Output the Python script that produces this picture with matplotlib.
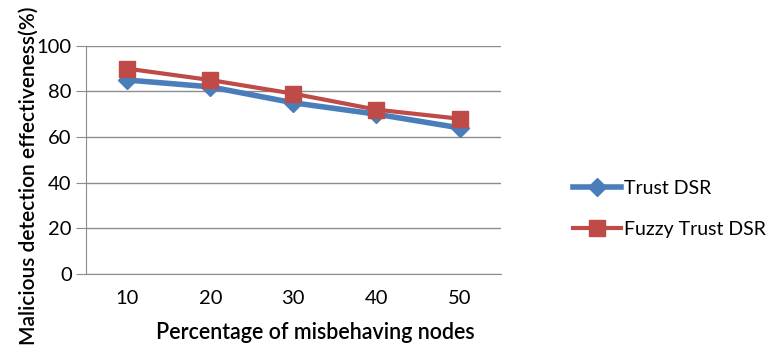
import matplotlib
matplotlib.use('Agg')
import matplotlib.pyplot as plt
import numpy as np

# Chart data
nodes = ['10', '20', '30', '40', '50']
trust_dsr = [85, 82, 75, 70, 64]
fuzzy_trust_dsr = [90, 85, 79, 72, 68]

plt.rcParams['font.family'] = ['Lato', 'DejaVu Sans']

fig = plt.figure(figsize=(7.71, 3.61), dpi=100)
ax = fig.add_axes([0.111, 0.242, 0.539, 0.631])

x = np.arange(len(nodes))
ax.plot(x, trust_dsr, color='#4A7EBB', linewidth=4.0, marker='D',
        markersize=9, label='Trust DSR', zorder=3)
ax.plot(x, fuzzy_trust_dsr, color='#BE4B48', linewidth=3.0, marker='s',
        markersize=12, label='Fuzzy Trust DSR', zorder=4)

ax.set_xlim(-0.5, len(nodes) - 0.5)
ax.set_ylim(0, 100)
ax.set_yticks(range(0, 101, 20))
ax.set_xticks(x)
ax.set_xticklabels(nodes)

# Excel-like gray grid and axes
ax.grid(axis='y', color='#8c8c8c', linewidth=1.0)
ax.set_axisbelow(True)
for side in ['top', 'right']:
    ax.spines[side].set_visible(False)
ax.spines['left'].set_color('#8c8c8c')
ax.spines['bottom'].set_color('#8c8c8c')
ax.tick_params(axis='y', length=7, color='#8c8c8c', labelsize=14.5, pad=3)
ax.tick_params(axis='x', length=0, labelsize=14.5, pad=12)

ax.set_xlabel('Percentage of misbehaving nodes', fontsize=15.5,
              fontweight='semibold')
ax.xaxis.set_label_coords(0.552, -0.212)
ax.set_ylabel('Malicious detection effectiveness(%)', fontsize=15,
              fontweight='semibold')
ax.yaxis.set_label_coords(-0.113, 0.43)

ax.legend(loc='center left', bbox_to_anchor=(1.13, 0.284), frameon=False,
          fontsize=14, handlelength=2.5, handletextpad=0.15, labelspacing=1.2)

fig.savefig('out.png', dpi=100)
